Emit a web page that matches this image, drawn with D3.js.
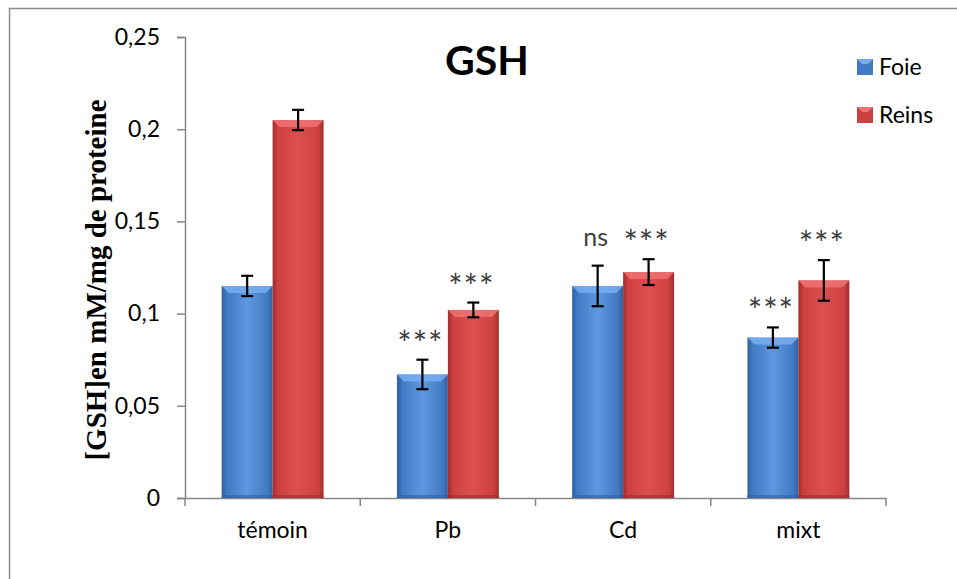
<!DOCTYPE html>
<html>
<head>
<meta charset="utf-8">
<script src="https://cdn.jsdelivr.net/npm/d3@7"></script>
<style>
  html, body { margin: 0; padding: 0; background: #fff; }
  svg { display: block; }
</style>
</head>
<body>
<svg id="chart" width="957" height="579"></svg>
<script>
const categories = ["témoin", "Pb", "Cd", "mixt"];
const seriesNames = ["Foie", "Reins"];
const foieValues = [0.115, 0.067, 0.115, 0.087];
const reinsValues = [0.205, 0.102, 0.1225, 0.118];
const foieErrors = [0.0055, 0.008, 0.011, 0.0055];
const reinsErrors = [0.0055, 0.004, 0.007, 0.011];
const foieLabels = ["", "***", "ns", "***"];
const reinsLabels = ["", "***", "***", "***"];
const yTicks = [0, 0.05, 0.1, 0.15, 0.2, 0.25];
const yTickLabels = ["0", "0,05", "0,1", "0,15", "0,2", "0,25"];
const title = "GSH";
const yTitle = "[GSH]en mM/mg de proteine";

const svg = d3.select("#chart");
const defs = svg.append("defs");

const palettes = {
  Foie: { edge: "#2f5f9f", face: "#4279c3", light: "#5d98e0", bevel: "#77aef0" },
  Reins: { edge: "#9f2c2c", face: "#cd4040", light: "#dc5050", bevel: "#ee7272" }
};
seriesNames.forEach(s => {
  const p = palettes[s];
  const g = defs.append("linearGradient").attr("id", "grad-" + s)
    .attr("x1", "0").attr("x2", "1").attr("y1", "0").attr("y2", "0");
  g.append("stop").attr("offset", "0").attr("stop-color", p.edge);
  g.append("stop").attr("offset", "0.1").attr("stop-color", p.face);
  g.append("stop").attr("offset", "0.5").attr("stop-color", p.light);
  g.append("stop").attr("offset", "0.9").attr("stop-color", p.face);
  g.append("stop").attr("offset", "1").attr("stop-color", p.edge);
});

// outer border
svg.append("rect").attr("x", 9.5).attr("y", 8.5).attr("width", 1000).attr("height", 1000)
  .attr("fill", "none").attr("stroke", "#8c8c8c").attr("stroke-width", 1.5);

const y = d3.scaleLinear().domain([0, 0.25]).range([498, 37]);
const x = d3.scaleBand().domain(categories).range([185, 886]).paddingInner(0).paddingOuter(0);
const xs = d3.scaleBand().domain(seriesNames).range([0, x.bandwidth()]).paddingInner(0).paddingOuter(0.72);

// Y axis
const yAxis = d3.axisLeft(y).tickValues(yTicks).tickFormat((d, i) => yTickLabels[i]).tickSize(8).tickPadding(17);
const yg = svg.append("g").attr("transform", "translate(185,0)").call(yAxis);
yg.select(".domain").attr("stroke", "#868686").attr("stroke-width", 1.5);
yg.selectAll(".tick line").attr("stroke", "#868686").attr("stroke-width", 1.5);
yg.selectAll(".tick text").attr("font-family", "Lato, 'Open Sans', sans-serif").attr("font-size", 23).attr("fill", "#000");

// X axis
const xAxis = d3.axisBottom(x).tickSize(0).tickPadding(24);
const xg = svg.append("g").attr("transform", "translate(0,498)").call(xAxis);
xg.select(".domain").attr("stroke", "#868686").attr("stroke-width", 1.5);
xg.selectAll(".tick text").attr("font-family", "Lato, 'Open Sans', sans-serif").attr("font-size", 23).attr("fill", "#000");
// band-boundary ticks
const boundaries = categories.map(c => x(c)).concat([x(categories[categories.length - 1]) + x.bandwidth()]);
xg.selectAll(".bt").data(boundaries).enter().append("line")
  .attr("x1", d => d).attr("x2", d => d).attr("y1", 0).attr("y2", 8)
  .attr("stroke", "#868686").attr("stroke-width", 1.5);

// data table
const table = [];
categories.forEach((c, i) => {
  table.push({ cat: c, s: "Foie", v: foieValues[i], e: foieErrors[i], lab: foieLabels[i] });
  table.push({ cat: c, s: "Reins", v: reinsValues[i], e: reinsErrors[i], lab: reinsLabels[i] });
});

const bars = svg.append("g").selectAll("g.bar").data(table).enter().append("g").attr("class", "bar");
bars.append("rect")
  .attr("x", d => x(d.cat) + xs(d.s))
  .attr("y", d => y(d.v))
  .attr("width", xs.bandwidth())
  .attr("height", d => y(0) - y(d.v))
  .attr("fill", d => "url(#grad-" + d.s + ")");
// top bevel
bars.append("path")
  .attr("d", d => {
    const x0 = x(d.cat) + xs(d.s), x1 = x0 + xs.bandwidth(), t = y(d.v), b = 7;
    return `M${x0},${t}L${x1},${t}L${x1 - b},${t + b}L${x0 + b},${t + b}Z`;
  })
  .attr("fill", d => palettes[d.s].bevel).attr("opacity", 0.85);
// dark bottom edge
bars.append("rect")
  .attr("x", d => x(d.cat) + xs(d.s))
  .attr("y", y(0) - 3)
  .attr("width", xs.bandwidth())
  .attr("height", 3)
  .attr("fill", d => palettes[d.s].edge).attr("opacity", 0.6);

// error bars
const cx = d => x(d.cat) + xs(d.s) + xs.bandwidth() / 2;
const eb = svg.append("g").selectAll("g.err").data(table).enter().append("g")
  .attr("stroke", "#000").attr("stroke-width", 2.2);
eb.append("line").attr("x1", cx).attr("x2", cx).attr("y1", d => y(d.v + d.e)).attr("y2", d => y(d.v - d.e));
eb.append("line").attr("x1", d => cx(d) - 6).attr("x2", d => cx(d) + 6).attr("y1", d => y(d.v + d.e)).attr("y2", d => y(d.v + d.e));
eb.append("line").attr("x1", d => cx(d) - 6).attr("x2", d => cx(d) + 6).attr("y1", d => y(d.v - d.e)).attr("y2", d => y(d.v - d.e));

// significance labels
svg.append("g").selectAll("text").data(table.filter(d => d.lab)).enter().append("text")
  .attr("x", d => cx(d) - 2)
  .attr("y", d => y(d.v + d.e) - (d.lab === "ns" ? 20 : 4))
  .attr("text-anchor", "middle")
  .attr("font-family", "Lato, 'Open Sans', sans-serif")
  .attr("font-size", d => d.lab === "ns" ? 25 : 34)
  .attr("letter-spacing", d => d.lab === "ns" ? 0 : 1)
  .attr("fill", "#404040")
  .text(d => d.lab);

// title
svg.append("text").attr("x", 487).attr("y", 75).attr("text-anchor", "middle")
  .attr("font-family", "Lato, 'Open Sans', sans-serif").attr("font-weight", "bold")
  .attr("font-size", 41).attr("fill", "#000").text(title);

// y title
svg.append("text").attr("transform", "translate(106,280) rotate(-90)").attr("text-anchor", "middle")
  .attr("font-family", "'Liberation Serif', 'Times New Roman', serif").attr("font-weight", "bold")
  .attr("font-size", 29).attr("fill", "#000").text(yTitle);

// legend
const lg = svg.append("g").selectAll("g").data(seriesNames).enter().append("g")
  .attr("transform", (d, i) => `translate(857,${59 + i * 48})`);
lg.append("rect").attr("width", 16).attr("height", 16).attr("fill", d => palettes[d].face);
lg.append("path").attr("d", "M0,0L16,0L11,5L5,5Z").attr("fill", d => palettes[d].bevel);
lg.append("text").attr("x", 22).attr("y", 15.5)
  .attr("font-family", "Lato, 'Open Sans', sans-serif").attr("font-size", 23).attr("fill", "#000")
  .text(d => d);
</script>
</body>
</html>
